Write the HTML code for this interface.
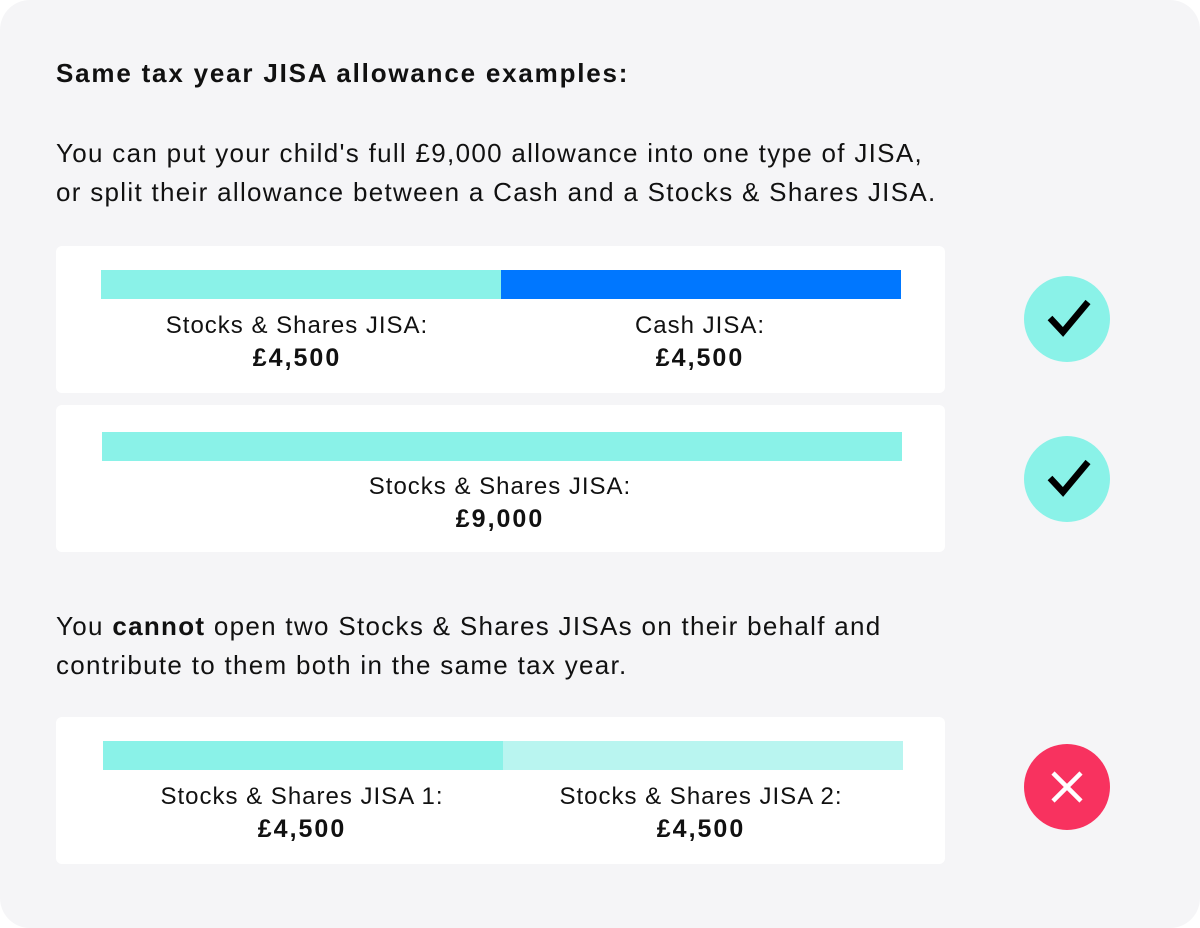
<!DOCTYPE html>
<html><head><style>
body{margin:0;width:1200px;height:928px;background:#fff;font-family:"Liberation Sans",sans-serif;color:#111;position:relative;overflow:hidden}
.panel{position:absolute;left:0;top:0;width:1200px;height:928px;background:#f5f5f7;border-radius:30px}
.t{position:absolute;left:56px;white-space:nowrap}
.card{position:absolute;left:56px;width:889px;height:147px;background:#fff;border-radius:6px}
.bar{position:absolute;height:29px}
.lab{position:absolute;width:400px;text-align:center;font-size:24px;line-height:32px;letter-spacing:1px}
.lab b{display:block;font-size:25px;letter-spacing:2px}
.c{position:absolute;left:1024px;width:86px;height:86px;border-radius:50%}
</style></head><body>
<div class="panel"></div>
<div class="t" style="top:58px;font-size:26px;font-weight:bold;letter-spacing:1.8px">Same tax year JISA allowance examples:</div>
<div class="t" style="top:134px;font-size:26px;line-height:39px;letter-spacing:1.3px">You can put your child's full £9,000 allowance into one type of JISA,<br>or split their allowance between a Cash and a Stocks &amp; Shares JISA.</div>
<div class="card" style="top:246px">
<div class="bar" style="left:45px;top:24px;width:400px;background:#8af2e8"></div>
<div class="bar" style="left:445px;top:24px;width:400px;background:#0077ff"></div>
<div class="lab" style="left:41px;top:64px">Stocks &amp; Shares JISA:<b>£4,500</b></div>
<div class="lab" style="left:444px;top:64px">Cash JISA:<b>£4,500</b></div>
</div>
<div class="card" style="top:405px">
<div class="bar" style="left:46px;top:27px;width:800px;background:#8af2e8"></div>
<div class="lab" style="left:244px;top:66px">Stocks &amp; Shares JISA:<b>£9,000</b></div>
</div>
<div class="t" style="top:607px;font-size:26px;line-height:39px;letter-spacing:1.3px">You <b>cannot</b> open two Stocks &amp; Shares JISAs on their behalf and<br>contribute to them both in the same tax year.</div>
<div class="card" style="top:717px">
<div class="bar" style="left:47px;top:24px;width:400px;background:#8af2e8"></div>
<div class="bar" style="left:447px;top:24px;width:400px;background:#b9f5f0"></div>
<div class="lab" style="left:46px;top:64px">Stocks &amp; Shares JISA 1:<b>£4,500</b></div>
<div class="lab" style="left:445px;top:64px">Stocks &amp; Shares JISA 2:<b>£4,500</b></div>
</div>
<div class="c" style="top:276px;background:#8af2e8"><svg width="86" height="86"><path d="M26 42 L39 56 L64 26" fill="none" stroke="#000" stroke-width="6.5"/></svg></div>
<div class="c" style="top:436px;background:#8af2e8"><svg width="86" height="86"><path d="M26 42 L39 56 L64 26" fill="none" stroke="#000" stroke-width="6.5"/></svg></div>
<div class="c" style="top:744px;background:#f8325f"><svg width="86" height="86"><path d="M29 29 L57 57 M57 29 L29 57" fill="none" stroke="#fff" stroke-width="4.5"/></svg></div>
</body></html>
